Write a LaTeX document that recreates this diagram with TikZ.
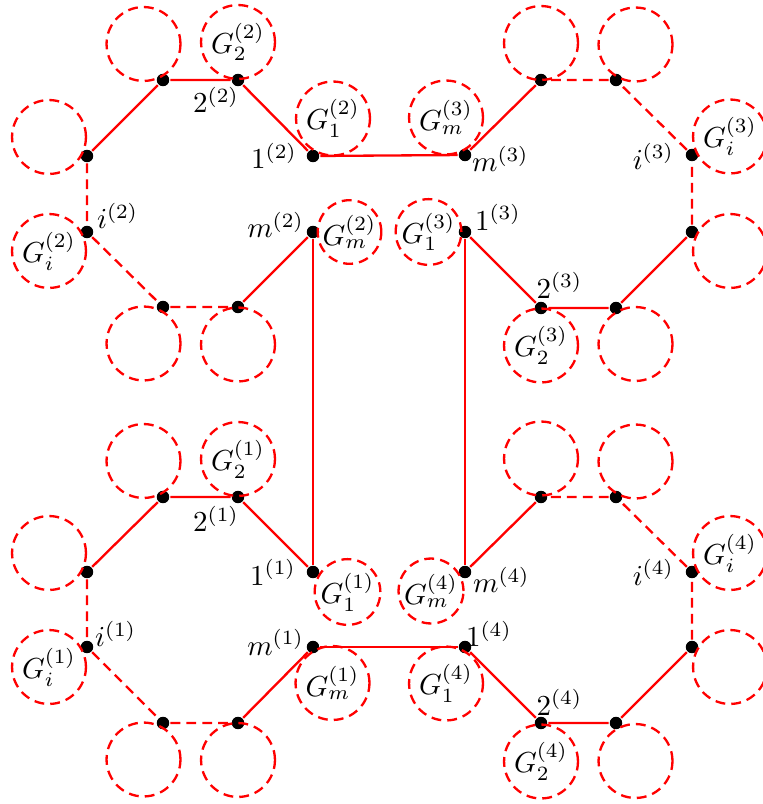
\documentclass[tikz,border=0pt]{standalone}
\usepackage{tikz}
\usepackage{amsmath,amssymb}
\usepackage{xcolor}

\begin{document}
\begin{tikzpicture}[x=0.345pt,y=-0.345pt,line width=0.8pt,
  pt/.style={circle,fill=black,inner sep=0pt,minimum size=4.3pt},
  big/.style={circle,draw=red,dash pattern=on 3.4pt off 2.1pt,inner sep=0pt,minimum size=25.5pt},
  small/.style={big,minimum size=21pt},
  lab/.style={inner sep=0pt},
  edge/.style={red},
  gap/.style={red,dash pattern=on 3.4pt off 2.1pt}]
\useasboundingbox (0,0) rectangle (762,804);

% part 2, top left
\node [pt] (one2) at (313,156) {};
\node [pt] (two2) at (238,80) {};
\node [pt] (a2) at (163,80) {};
\node [pt] (b2) at (87,156) {};
\node [pt] (i2) at (87,232) {};
\node [pt] (c2) at (163,307) {};
\node [pt] (d2) at (238,307) {};
\node [pt] (m2) at (313,232) {};

\node [big] (G-one2) at ([shift={(20,-37.5)}]one2) {$G_1^{(2)}$};
\node [big] (G-two2) at ([shift={(0,-38)}]two2) {$G_2^{(2)}$};
\node [big] (G-a2) at ([shift={(-19.5,-36)}]a2) {};
\node [big] (G-b2) at ([shift={(-38,-19)}]b2) {};
\node [big] (G-i2) at ([shift={(-38,19)}]i2) {$G_i^{(2)}$};
\node [big] (G-c2) at ([shift={(-19.5,36.5)}]c2) {};
\node [big] (G-d2) at ([shift={(0,37.5)}]d2) {};
\node [small] (G-m2) at ([shift={(36.5,0)}]m2) {$G_m^{(2)}$};

\node [lab,anchor=east] (l-one2) at ([shift={(-15,0)}]one2) {$1^{(2)}$};
\node [lab,anchor=east] (l-two2) at ([shift={(2,20)}]two2) {$2^{(2)}$};
\node [lab,anchor=west] (l-i2) at ([shift={(9,-16)}]i2) {$i^{(2)}$};
\node [lab,anchor=east] (l-m2) at ([shift={(-8,-7)}]m2) {$m^{(2)}$};

\draw [edge] (one2) -- (two2) -- (a2) -- (b2);
\draw [gap] (b2) -- (i2) -- (c2) -- (d2);
\draw [edge] (d2) -- (m2);

% part 3, top right
\node [pt] (one3) at (465,232) {};
\node [pt] (two3) at (541,308) {};
\node [pt] (a3) at (616,308) {};
\node [pt] (b3) at (692,232) {};
\node [pt] (i3) at (692,155) {};
\node [pt] (c3) at (616,80) {};
\node [pt] (d3) at (541,80) {};
\node [pt] (m3) at (465,155) {};

\node [small] (G-one3) at ([shift={(-36.5,0)}]one3) {$G_1^{(3)}$};
\node [big] (G-two3) at ([shift={(0,37.5)}]two3) {$G_2^{(3)}$};
\node [big] (G-a3) at ([shift={(19.5,36)}]a3) {};
\node [big] (G-b3) at ([shift={(38,19)}]b3) {};
\node [big] (G-i3) at ([shift={(38,-18.5)}]i3) {$G_i^{(3)}$};
\node [big] (G-c3) at ([shift={(19.5,-35.5)}]c3) {};
\node [big] (G-d3) at ([shift={(0,-37)}]d3) {};
\node [big] (G-m3) at ([shift={(-19,-37.5)}]m3) {$G_m^{(3)}$};

\node [lab,anchor=west] (l-one3) at ([shift={(9,-14.5)}]one3) {$1^{(3)}$};
\node [lab,anchor=west] (l-two3) at ([shift={(-5.5,-22.5)}]two3) {$2^{(3)}$};
\node [lab,anchor=east] (l-i3) at ([shift={(-17,1.5)}]i3) {$i^{(3)}$};
\node [lab,anchor=west] (l-m3) at ([shift={(6,4)}]m3) {$m^{(3)}$};

\draw [edge] (one3) -- (two3) -- (a3) -- (b3);
\draw [gap] (b3) -- (i3) -- (c3) -- (d3);
\draw [edge] (d3) -- (m3);

% part 1, bottom left
\node [pt] (one1) at (313,572) {};
\node [pt] (two1) at (238,497) {};
\node [pt] (a1) at (163,497) {};
\node [pt] (b1) at (87,572) {};
\node [pt] (i1) at (87,647) {};
\node [pt] (c1) at (163,723) {};
\node [pt] (d1) at (238,723) {};
\node [pt] (m1) at (313,647) {};

\node [small,minimum size=22.4pt] (G-one1) at ([shift={(34.5,20)}]one1) {$G_1^{(1)}$};
\node [big] (G-two1) at ([shift={(0,-38)}]two1) {$G_2^{(1)}$};
\node [big] (G-a1) at ([shift={(-19.5,-36)}]a1) {};
\node [big] (G-b1) at ([shift={(-38,-19)}]b1) {};
\node [big] (G-i1) at ([shift={(-38,20)}]i1) {$G_i^{(1)}$};
\node [big] (G-c1) at ([shift={(-19.5,36.5)}]c1) {};
\node [big] (G-d1) at ([shift={(0,37)}]d1) {};
\node [big] (G-m1) at ([shift={(19.5,36)}]m1) {$G_m^{(1)}$};

\node [lab,anchor=east] (l-one1) at ([shift={(-16,0.5)}]one1) {$1^{(1)}$};
\node [lab,anchor=east] (l-two1) at ([shift={(2,22)}]two1) {$2^{(1)}$};
\node [lab,anchor=west] (l-i1) at ([shift={(7,-13)}]i1) {$i^{(1)}$};
\node [lab,anchor=east] (l-m1) at ([shift={(-8,-4.5)}]m1) {$m^{(1)}$};

\draw [edge] (one1) -- (two1) -- (a1) -- (b1);
\draw [gap] (b1) -- (i1) -- (c1) -- (d1);
\draw [edge] (d1) -- (m1);

% part 4, bottom right
\node [pt] (one4) at (465,647) {};
\node [pt] (two4) at (541,723) {};
\node [pt] (a4) at (616,723) {};
\node [pt] (b4) at (692,647) {};
\node [pt] (i4) at (692,572) {};
\node [pt] (c4) at (616,497) {};
\node [pt] (d4) at (541,497) {};
\node [pt] (m4) at (465,572) {};

\node [big] (G-one4) at ([shift={(-19,36.5)}]one4) {$G_1^{(4)}$};
\node [big] (G-two4) at ([shift={(0,38.5)}]two4) {$G_2^{(4)}$};
\node [big] (G-a4) at ([shift={(19.5,38)}]a4) {};
\node [big] (G-b4) at ([shift={(38,20)}]b4) {};
\node [big] (G-i4) at ([shift={(38,-19)}]i4) {$G_i^{(4)}$};
\node [big] (G-c4) at ([shift={(19.5,-35.5)}]c4) {};
\node [big] (G-d4) at ([shift={(0,-38.5)}]d4) {};
\node [small,minimum size=22.4pt] (G-m4) at ([shift={(-34,19)}]m4) {$G_m^{(4)}$};

\node [lab,anchor=west] (l-one4) at ([shift={(0,-13)}]one4) {$1^{(4)}$};
\node [lab,anchor=west] (l-two4) at ([shift={(-5.5,-20.5)}]two4) {$2^{(4)}$};
\node [lab,anchor=east] (l-i4) at ([shift={(-17,0.5)}]i4) {$i^{(4)}$};
\node [lab,anchor=west] (l-m4) at ([shift={(7,8)}]m4) {$m^{(4)}$};

\draw [edge] (one4) -- (two4) -- (a4) -- (b4);
\draw [gap] (b4) -- (i4) -- (c4) -- (d4);
\draw [edge] (d4) -- (m4);

% links between the parts
\draw [edge] (one2) -- (m3);
\draw [edge] (m2) -- (one1);
\draw [edge] (one3) -- (m4);
\draw [edge] (m1) -- (one4);
\end{tikzpicture}
\end{document}
